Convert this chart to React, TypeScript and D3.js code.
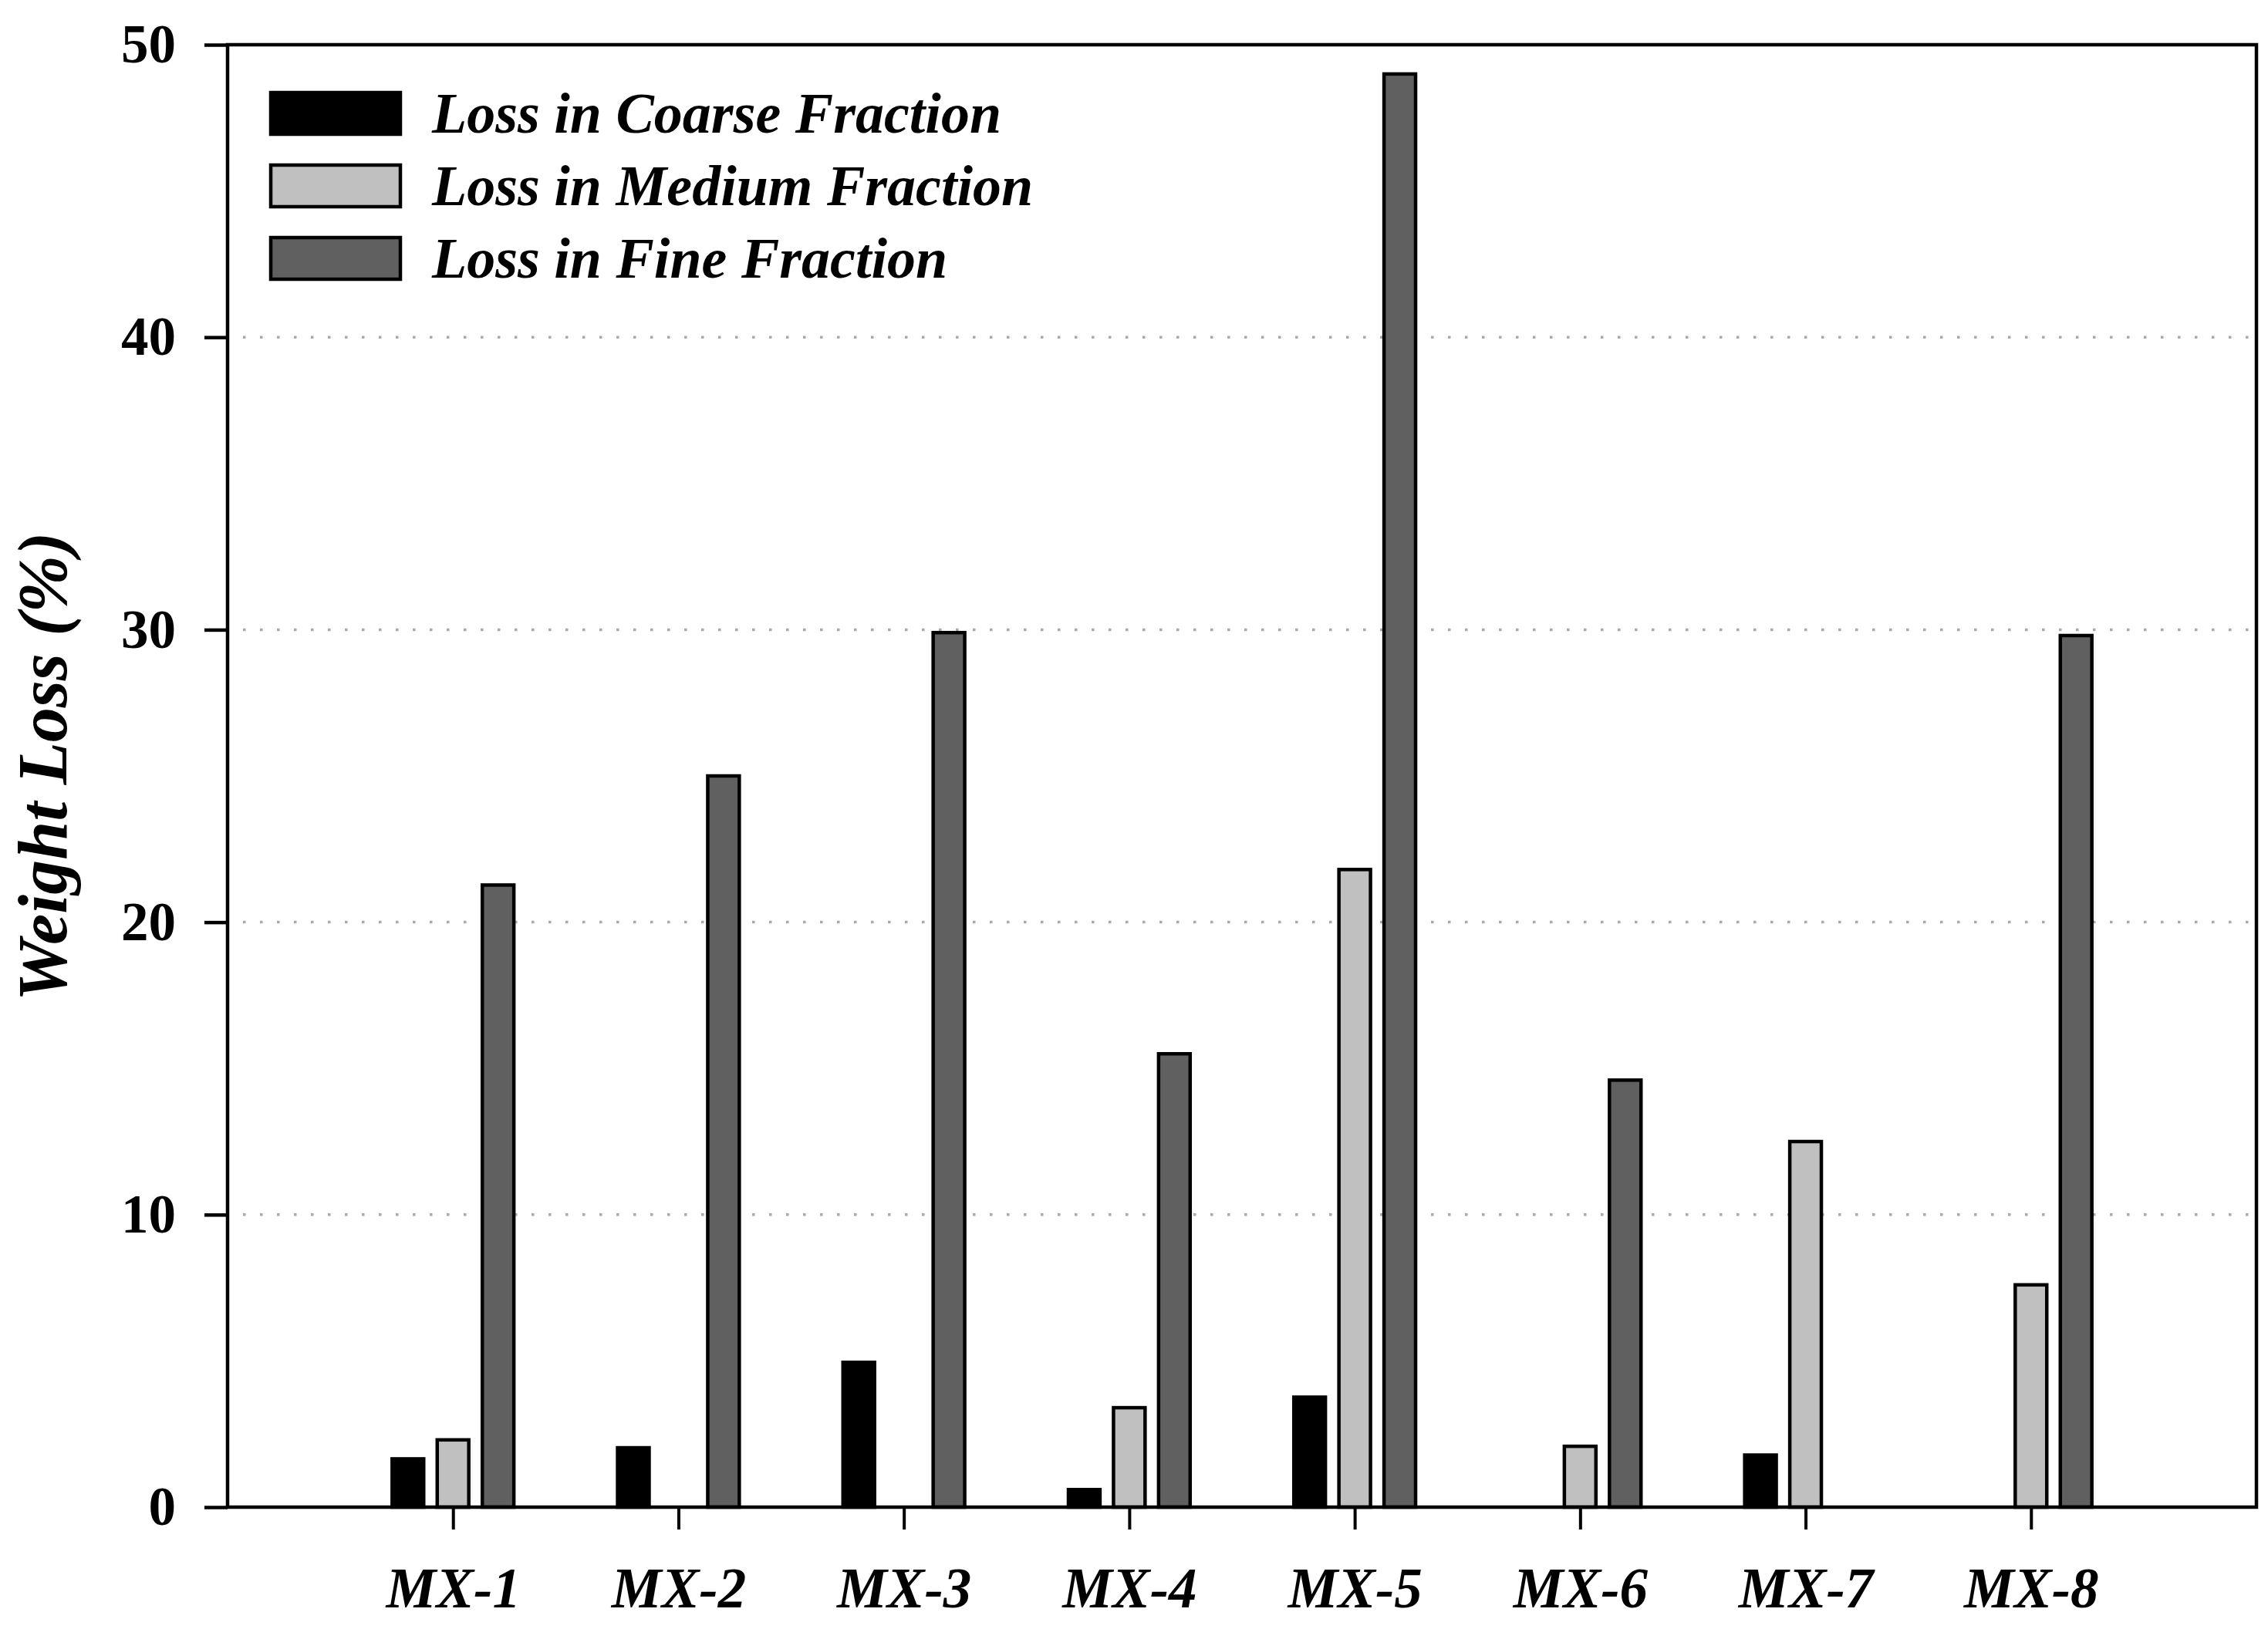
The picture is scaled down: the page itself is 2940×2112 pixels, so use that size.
import { useEffect, useRef } from "react";
import * as d3 from "d3";

const WIDTH = 2940;
const HEIGHT = 2112;
const PLOT = { left: 295, right: 2925, top: 58, bottom: 1954 };
const FONT = "'Liberation Serif', 'Times New Roman', serif";

const categories = ["MX-1", "MX-2", "MX-3", "MX-4", "MX-5", "MX-6", "MX-7", "MX-8"];
const coarseLoss = [1.65, 2.03, 4.95, 0.6, 3.76, 0, 1.78, 0];
const mediumLoss = [2.3, 0, 0, 3.4, 21.8, 2.08, 12.5, 7.6];
const fineLoss = [21.27, 25.0, 29.9, 15.5, 49.0, 14.6, 0, 29.8];
const yTicks = [0, 10, 20, 30, 40, 50];
const gridTicks = [10, 20, 30, 40];

const series = [
  { name: "Loss in Coarse Fraction", values: coarseLoss, fill: "#000000" },
  { name: "Loss in Medium Fraction", values: mediumLoss, fill: "#c0c0c0" },
  { name: "Loss in Fine Fraction", values: fineLoss, fill: "#606060" },
];

const BAR_STEP = 0.2; // in category units
const BAR_WIDTH = 0.14;
const STROKE = 4.5;

export default function App() {
  const yAxisRef = useRef<SVGGElement>(null);
  const xAxisRef = useRef<SVGGElement>(null);

  const xScale = d3.scaleLinear().domain([0, categories.length + 1]).range([PLOT.left, PLOT.right]);
  const yScale = d3.scaleLinear().domain([0, 50]).range([PLOT.bottom, PLOT.top]);

  useEffect(() => {
    const yAxis = d3
      .axisLeft(yScale)
      .tickValues(yTicks)
      .tickSize(30)
      .tickPadding(37)
      .tickFormat(d3.format("d"));
    const gy = d3.select(yAxisRef.current);
    gy.selectAll("*").remove();
    gy.call(yAxis);
    gy.select(".domain").remove();
    gy.selectAll(".tick line").attr("stroke", "#000").attr("stroke-width", STROKE);
    gy.selectAll(".tick text")
      .attr("font-family", FONT)
      .attr("font-weight", "bold")
      .attr("font-size", 71)
      .attr("fill", "#000");

    const xAxis = d3
      .axisBottom(xScale)
      .tickValues(categories.map((_, i) => i + 1))
      .tickSize(29)
      .tickPadding(49)
      .tickFormat((d) => categories[Number(d) - 1]);
    const gx = d3.select(xAxisRef.current);
    gx.selectAll("*").remove();
    gx.call(xAxis);
    gx.select(".domain").remove();
    gx.selectAll(".tick line").attr("stroke", "#000").attr("stroke-width", 4);
    gx.selectAll(".tick text")
      .attr("font-family", FONT)
      .attr("font-weight", "bold")
      .attr("font-style", "italic")
      .attr("font-size", 73)
      .attr("fill", "#000");
  }, []);

  const barW = xScale(BAR_WIDTH) - xScale(0);

  return (
    <svg
      width={WIDTH}
      height={HEIGHT}
      style={{ position: "absolute", left: 0, top: 0, background: "#fff" }}
    >
      <rect x={0} y={0} width={WIDTH} height={HEIGHT} fill="#fff" />

      {gridTicks.map((t) => (
        <line
          key={t}
          x1={PLOT.left + 20}
          x2={PLOT.right}
          y1={yScale(t)}
          y2={yScale(t)}
          stroke="#aaaaaa"
          strokeWidth={3.5}
          strokeDasharray="3.5 18.5"
        />
      ))}

      {series.map((s, si) =>
        s.values.map((v, i) => {
          if (!v) return null;
          const cx = xScale(i + 1 + (si - 1) * BAR_STEP);
          return (
            <rect
              key={`${si}-${i}`}
              x={cx - barW / 2}
              y={yScale(v)}
              width={barW}
              height={yScale(0) - yScale(v)}
              fill={s.fill}
              stroke="#000"
              strokeWidth={STROKE}
            />
          );
        })
      )}

      <rect
        x={PLOT.left}
        y={PLOT.top}
        width={PLOT.right - PLOT.left}
        height={PLOT.bottom - PLOT.top}
        fill="none"
        stroke="#000"
        strokeWidth={STROKE}
      />

      <g ref={yAxisRef} transform={`translate(${PLOT.left},0)`} />
      <g ref={xAxisRef} transform={`translate(0,${PLOT.bottom})`} />

      {series.map((s, i) => {
        const cy = 147 + i * 94;
        return (
          <g key={s.name}>
            <rect
              x={351}
              y={cy - 27}
              width={168}
              height={54}
              fill={s.fill}
              stroke="#000"
              strokeWidth={STROKE}
            />
            <text
              x={560}
              y={cy + 25}
              fontFamily={FONT}
              fontWeight="bold"
              fontStyle="italic"
              fontSize={74}
              fill="#000"
            >
              {s.name}
            </text>
          </g>
        );
      })}

      <text
        transform={`translate(86,${(PLOT.top + PLOT.bottom) / 2 - 12}) rotate(-90)`}
        textAnchor="middle"
        fontFamily={FONT}
        fontWeight="bold"
        fontStyle="italic"
        fontSize={90}
        fill="#000"
      >
        Weight Loss (%)
      </text>
    </svg>
  );
}
